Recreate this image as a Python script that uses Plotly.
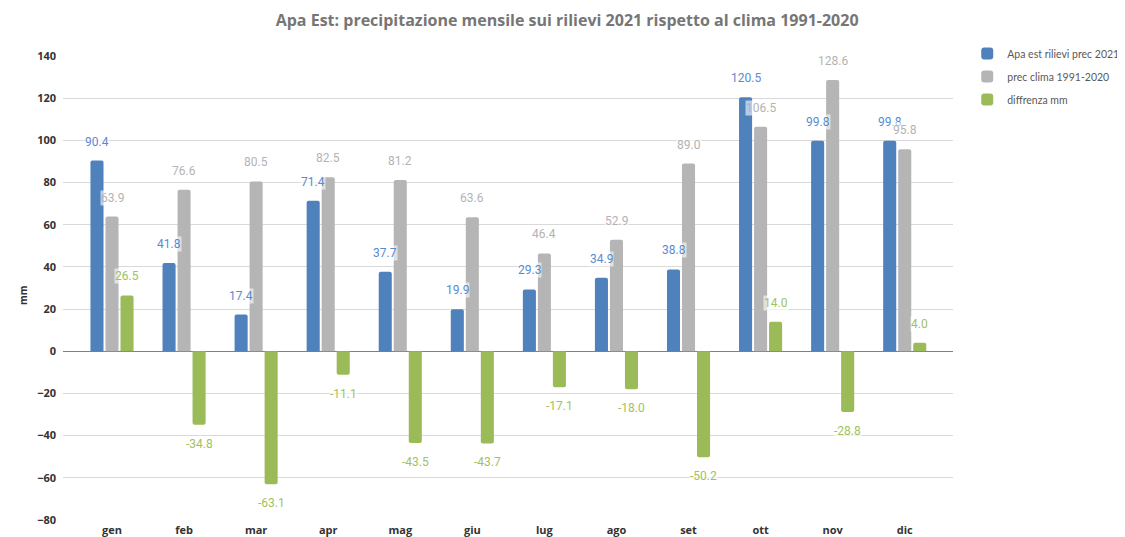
import plotly.graph_objects as go

months = ["gen", "feb", "mar", "apr", "mag", "giu", "lug", "ago", "set", "ott", "nov", "dic"]
prec_2021 = [90.4, 41.8, 17.4, 71.4, 37.7, 19.9, 29.3, 34.9, 38.8, 120.5, 99.8, 99.8]
prec_clima = [63.9, 76.6, 80.5, 82.5, 81.2, 63.6, 46.4, 52.9, 89.0, 106.5, 128.6, 95.8]
differenza = [26.5, -34.8, -63.1, -11.1, -43.5, -43.7, -17.1, -18.0, -50.2, 14.0, -28.8, 4.0]

names = ["Apa est rilievi prec 2021", "prec clima 1991-2020", "diffrenza mm"]
bar_colors = ["#4f81bd", "#b5b5b5", "#9bbb59"]
label_colors = ["#5a8ad0", "#b3b3b3", "#9fc25e"]
series = [prec_2021, prec_clima, differenza]

BARGAP = 0.375
BARGROUPGAP = 0.13

fig = go.Figure()
for k, (name, vals, col) in enumerate(zip(names, series, bar_colors)):
    fig.add_trace(go.Bar(
        x=months, y=vals, name=name, legendgroup=f"g{k}",
        marker=dict(color=col, line=dict(width=0), cornerradius=2),
        hoverinfo="x+y+name",
    ))

annotations = []
offsets = [-(1 - BARGAP) / 3, 0.0, (1 - BARGAP) / 3]
for vals, col, off in zip(series, label_colors, offsets):
    for i, v in enumerate(vals):
        annotations.append(dict(
            x=i + off, y=v, xref="x", yref="y",
            text=f"{v:.1f}", showarrow=False,
            yshift=19 if v >= 0 else -19,
            font=dict(family="Roboto, Open Sans, sans-serif", size=12, color=col),
            bgcolor="rgba(255,255,255,0.6)", borderpad=0,
        ))

annotations.append(dict(
    x=-0.055, y=0.485, xref="paper", yref="paper", text="<b>mm</b>",
    showarrow=False, textangle=-90,
    font=dict(family="Open Sans, sans-serif", size=10, color="#333333"),
))

fig.update_layout(
    width=1125, height=537,
    margin=dict(l=55, r=180, t=48, b=25, pad=0, autoexpand=False),
    paper_bgcolor="white", plot_bgcolor="white",
    barmode="group", bargap=BARGAP, bargroupgap=BARGROUPGAP,
    title=dict(
        text="<b>Apa Est: precipitazione mensile sui rilievi 2021 rispetto al clima 1991-2020</b>",
        x=0.497, xanchor="center", y=0.9777, yanchor="middle",
        font=dict(family="Open Sans, sans-serif", size=16, color="#767676"),
    ),
    legend=dict(
        x=1.016, y=1.0366, xanchor="left", yanchor="top",
        font=dict(family="Lato, Open Sans, sans-serif", size=10.5, color="#595959"),
        tracegroupgap=4, itemwidth=30, bgcolor="rgba(0,0,0,0)",
    ),
    xaxis=dict(
        type="category", range=[-0.68, 11.67],
        showgrid=False, showline=False, ticks="",
        tickfont=dict(family="Open Sans, sans-serif", size=11, color="#333333", weight="bold"),
        ticklabelstandoff=2,
        fixedrange=True,
    ),
    yaxis=dict(
        range=[-80, 140], dtick=20, tick0=0,
        showgrid=True, gridcolor="#d9d9d9", gridwidth=1,
        zeroline=True, zerolinecolor="#808080", zerolinewidth=1,
        showline=False, ticks="",
        tickfont=dict(family="Open Sans, sans-serif", size=11, color="#333333", weight="bold"),
        ticklabelstandoff=6,
    ),
    annotations=annotations,
    showlegend=True,
)

fig.write_html("out.html")
